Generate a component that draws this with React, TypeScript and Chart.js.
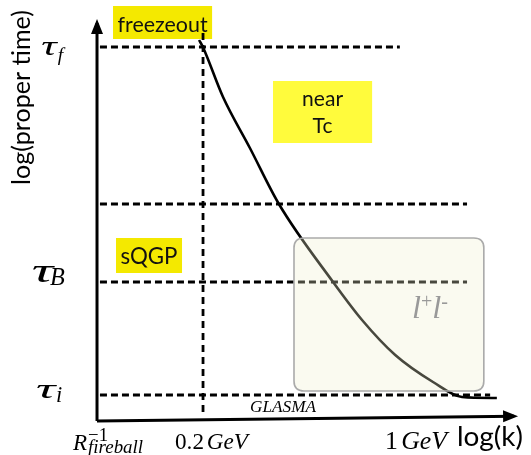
import { useEffect, useRef } from "react";
import { Chart, registerables } from "chart.js";

Chart.register(...registerables);

// Diagram units: x = log(k) (axis origin 0, arrow ~100), y = log(proper time) (origin 0, arrow ~100)
const curveK = [24.3, 25.2, 30.0, 36.4, 43.3, 56.2, 63.1, 71.0, 80.0, 86.9, 95.2];
const curveTau = [95.25, 93.5, 81.0, 68.25, 54.25, 34.75, 25.25, 16.5, 9.75, 6.0, 5.75];

const levelTau = [93.5, 54.25, 34.75, 6.5];
const levelStartK = [0.7, 0.7, 0.7, 0.7];
const levelEndK = [72.1, 88.1, 88.1, 93.6];

const markK = [25.24, 25.24]; // 0.2 GeV
const markTau = [97, 2];

const xAxisK = [0, 99.3];
const xAxisTau = [0, 1.2];
const yAxisK = [0, 0];
const yAxisTau = [0, 99.5];

const tauSubs = ["f", "B", "i"];
const tauLabelK = [-13.1, -15.24, -14.29];
const tauLabelTau = [91.5, 34.75, 5.75];

const phaseLines = [["freezeout"], ["near", "Tc"], ["sQGP"]];
const phaseBaselines = [[97.25], [78.75, 72.0], [39.25]];
const phaseK0 = [3.81, 41.9, 4.52];
const phaseK1 = [27.4, 65.5, 20.24];
const phaseTau0 = [103.75, 85.0, 45.75];
const phaseTau1 = [95.5, 69.5, 37.0];

const dileptonK = [46.9, 92.1];
const dileptonTau = [45.75, 7.5];
const dileptonLabelK = 75.0;
const dileptonLabelTau = 25.75;

const kTickK = [-5.71, 18.57, 68.57];
const kTickTau = -7.0;
const glasmaK = 44.29;
const glasmaTau = 2.25;
const xTitleK = 85.7;
const xTitleTau = -6.25;
const yTitleK = -15.95;
const yTitleTau = 80.9;

const X_MIN = -23.1;
const X_MAX = 103.33;
const Y_MIN = -8.5;
const Y_MAX = 105.25;

const SANS = '"Lato", "Open Sans", sans-serif';
const SERIF = '"Liberation Serif", "DejaVu Serif", serif';

type Run = { t: string; style?: string; scale?: number; dy?: number; fam?: string };

function runsWidth(ctx: CanvasRenderingContext2D, runs: Run[], size: number) {
  let w = 0;
  for (const r of runs) {
    ctx.font = `${r.style || ""} ${size * (r.scale || 1)}px ${r.fam || SERIF}`;
    w += ctx.measureText(r.t).width;
  }
  return w;
}

function drawRuns(
  ctx: CanvasRenderingContext2D,
  runs: Run[],
  x: number,
  y: number,
  target: number,
  align: "left" | "center" = "left"
) {
  const base = 100;
  const size = (base * target) / runsWidth(ctx, runs, base);
  let cx = align === "center" ? x - target / 2 : x;
  ctx.textAlign = "left";
  ctx.textBaseline = "alphabetic";
  for (const r of runs) {
    ctx.font = `${r.style || ""} ${size * (r.scale || 1)}px ${r.fam || SERIF}`;
    ctx.fillText(r.t, cx, y + (r.dy || 0) * size);
    cx += ctx.measureText(r.t).width;
  }
  return size;
}

// draw a glyph so that its ink fills the given box (w <= 0: keep aspect, fit height)
function drawInk(
  ctx: CanvasRenderingContext2D,
  text: string,
  style: string,
  fam: string,
  left: number,
  top: number,
  w: number,
  h: number
) {
  ctx.save();
  ctx.textAlign = "left";
  ctx.textBaseline = "alphabetic";
  ctx.font = `${style} 100px ${fam}`;
  const m = ctx.measureText(text);
  const ih = m.actualBoundingBoxAscent + m.actualBoundingBoxDescent;
  const iw = m.actualBoundingBoxLeft + m.actualBoundingBoxRight;
  const sy = h / ih;
  const sx = w > 0 ? w / iw : sy;
  ctx.translate(left, top);
  ctx.scale(sx, sy);
  ctx.fillText(text, m.actualBoundingBoxLeft, m.actualBoundingBoxAscent);
  ctx.restore();
}

const diagramPlugin = {
  id: "diagram",
  beforeDatasetsDraw(chart: any) {
    const { ctx } = chart;
    const xs = chart.scales.x;
    const ys = chart.scales.y;
    ctx.save();
    const widths = [90, 41, 57];
    phaseK0.forEach((k0: number, i: number) => {
      const l = xs.getPixelForValue(k0);
      const r = xs.getPixelForValue(phaseK1[i]);
      const t = ys.getPixelForValue(phaseTau0[i]);
      const b = ys.getPixelForValue(phaseTau1[i]);
      ctx.fillStyle = i === 1 ? "#fffb3c" : "#f4e900";
      ctx.fillRect(l, t, r - l, b - t);
      ctx.fillStyle = "#111";
      const base = 100;
      ctx.font = `${base}px ${SANS}`;
      const size = (base * widths[i]) / ctx.measureText(phaseLines[i][0]).width;
      ctx.font = `${size}px ${SANS}`;
      ctx.textAlign = "center";
      ctx.textBaseline = "alphabetic";
      phaseLines[i].forEach((line: string, j: number) => {
        ctx.fillText(line, (l + r) / 2, ys.getPixelForValue(phaseBaselines[i][j]));
      });
    });
    ctx.restore();
  },
  afterDatasetsDraw(chart: any) {
    const { ctx } = chart;
    const xs = chart.scales.x;
    const ys = chart.scales.y;
    const X = (v: number) => xs.getPixelForValue(v);
    const Y = (v: number) => ys.getPixelForValue(v);
    ctx.save();

    // dilepton window
    const l = X(dileptonK[0]);
    const r = X(dileptonK[1]);
    const t = Y(dileptonTau[0]);
    const b = Y(dileptonTau[1]);
    const rad = 10;
    ctx.beginPath();
    ctx.moveTo(l + rad, t);
    ctx.lineTo(r - rad, t);
    ctx.quadraticCurveTo(r, t, r, t + rad);
    ctx.lineTo(r, b - rad);
    ctx.quadraticCurveTo(r, b, r - rad, b);
    ctx.lineTo(l + rad, b);
    ctx.quadraticCurveTo(l, b, l, b - rad);
    ctx.lineTo(l, t + rad);
    ctx.quadraticCurveTo(l, t, l + rad, t);
    ctx.closePath();
    ctx.fillStyle = "rgba(240,240,205,0.3)";
    ctx.fill();
    ctx.strokeStyle = "#aaaaaa";
    ctx.lineWidth = 1.6;
    ctx.stroke();

    ctx.fillStyle = "#999999";
    drawRuns(
      ctx,
      [
        { t: "l", style: "italic" },
        { t: "+", scale: 0.62, dy: -0.32 },
        { t: "l", style: "italic" },
        { t: "-", scale: 0.62, dy: -0.32 },
      ],
      X(dileptonLabelK),
      Y(dileptonLabelTau),
      36
    );

    // arrowheads
    ctx.fillStyle = "#000";
    const arrow = (x0: number, y0: number, x1: number, y1: number) => {
      const dx = x1 - x0;
      const dy = y1 - y0;
      const len = Math.hypot(dx, dy);
      const ux = dx / len;
      const uy = dy / len;
      const tipX = x1 + ux * 4;
      const tipY = y1 + uy * 4;
      const bx = tipX - ux * 15;
      const by = tipY - uy * 15;
      ctx.beginPath();
      ctx.moveTo(tipX, tipY);
      ctx.lineTo(bx - uy * 6, by + ux * 6);
      ctx.lineTo(bx + uy * 6, by - ux * 6);
      ctx.closePath();
      ctx.fill();
    };
    arrow(X(yAxisK[0]), Y(yAxisTau[0]), X(yAxisK[1]), Y(yAxisTau[1]));
    arrow(X(xAxisK[0]), Y(xAxisTau[0]), X(xAxisK[1]), Y(xAxisTau[1]));

    // tau labels (anchor = ink left / bottom of the tau glyph)
    ctx.fillStyle = "#000";
    const tauW = [16, 22, 20];
    const tauH = [13, 16, 13];
    const subDx = [16, 17, 20];
    const subTop = [-8, -13, -11];
    const subH = [18, 16, 15];
    tauSubs.forEach((s: string, i: number) => {
      const ax = X(tauLabelK[i]);
      const ay = Y(tauLabelTau[i]);
      drawInk(ctx, "\u03C4", "italic", SERIF, ax, ay - tauH[i], tauW[i], tauH[i]);
      drawInk(ctx, s, "italic", SERIF, ax + subDx[i], ay + subTop[i], 0, subH[i]);
    });

    // k tick labels
    const rx = X(kTickK[0]);
    const ry = Y(kTickTau);
    ctx.font = `italic 23px ${SERIF}`;
    ctx.textAlign = "left";
    ctx.fillText("R", rx, ry + 1);
    const rw = ctx.measureText("R").width;
    drawRuns(ctx, [{ t: "\u22121" }], rx + rw + 1, ry - 8, 20);
    drawRuns(ctx, [{ t: "fireball", style: "italic" }], rx + rw + 1, ry + 4, 55);

    drawRuns(
      ctx,
      [{ t: "0.2" }, { t: " ", scale: 0.5 }, { t: "GeV", style: "italic" }],
      X(kTickK[1]),
      ry,
      73
    );
    drawRuns(
      ctx,
      [{ t: "1" }, { t: " ", scale: 0.5 }, { t: "GeV", style: "italic" }],
      X(kTickK[2]),
      ry,
      62
    );

    // GLASMA
    drawRuns(ctx, [{ t: "GLASMA", style: "italic" }], X(glasmaK), Y(glasmaTau), 66, "center");

    // axis titles
    drawRuns(ctx, [{ t: "log(k)", fam: SANS }], X(xTitleK), Y(xTitleTau), 66);
    ctx.save();
    ctx.translate(X(yTitleK), Y(yTitleTau));
    ctx.rotate(-Math.PI / 2);
    drawRuns(ctx, [{ t: "log(proper time)", fam: SANS }], 0, 0, 175, "center");
    ctx.restore();

    ctx.restore();
  },
};

function pts(xs: number[], ys: number[]) {
  return xs.map((x, i) => ({ x, y: ys[i] }));
}

export default function App() {
  const ref = useRef<HTMLCanvasElement | null>(null);
  useEffect(() => {
    if (!ref.current) return;
    const line = (data: any[], extra: any = {}) => ({
      data,
      showLine: true,
      pointRadius: 0,
      borderColor: "#000",
      borderWidth: 3,
      fill: false,
      borderCapStyle: "butt",
      ...extra,
    });
    const datasets: any[] = [
      line(pts(curveK, curveTau), { borderWidth: 2.6, cubicInterpolationMode: "monotone" }),
      ...levelTau.map((t, i) =>
        line(pts([levelStartK[i], levelEndK[i]], [t, t]), { borderDash: [7, 4], borderWidth: 2.8 })
      ),
      line(pts(markK, markTau), { borderDash: [7, 5], borderWidth: 2.8 }),
      line(pts(xAxisK, xAxisTau), { borderWidth: 3 }),
      line(pts(yAxisK, yAxisTau), { borderWidth: 3 }),
    ];
    const chart = new Chart(ref.current, {
      type: "scatter",
      data: { datasets },
      options: {
        responsive: false,
        animation: false,
        layout: { padding: 0 },
        plugins: { legend: { display: false }, tooltip: { enabled: false } },
        scales: {
          x: { type: "linear", min: X_MIN, max: X_MAX, display: false },
          y: { type: "linear", min: Y_MIN, max: Y_MAX, display: false },
        },
      },
      plugins: [diagramPlugin],
    } as any);
    return () => chart.destroy();
  }, []);
  return (
    <canvas
      ref={ref}
      width={531}
      height={455}
      style={{ position: "fixed", left: 0, top: 0, background: "#fff" }}
    />
  );
}
